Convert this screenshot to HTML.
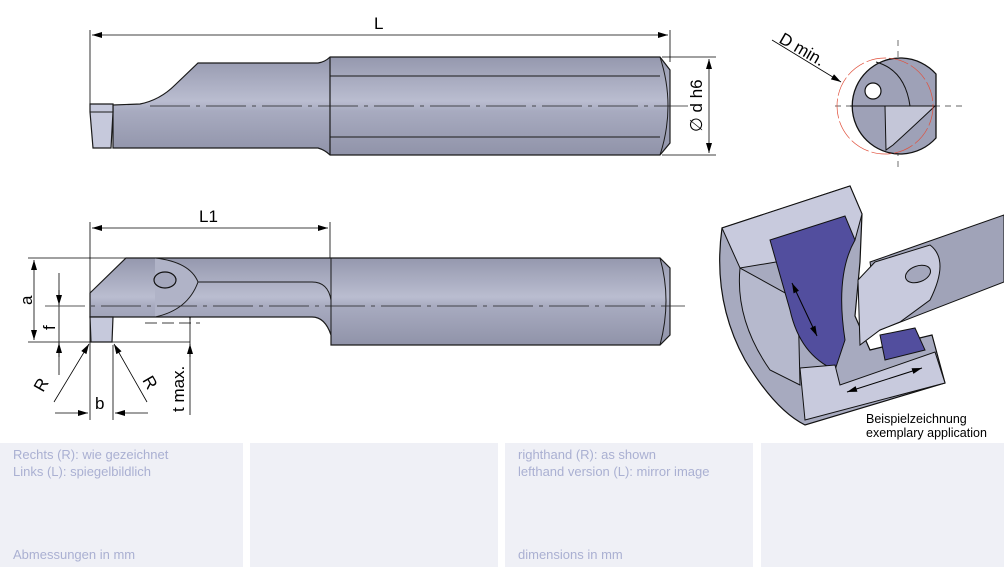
<!DOCTYPE html>
<html><head><meta charset="utf-8"><style>
html,body{margin:0;padding:0;background:#fff;}
body{width:1004px;height:573px;position:relative;overflow:hidden;font-family:"Liberation Sans",sans-serif;}
.p{position:absolute;top:443px;height:124px;background:#eff0f6;}
.t{position:absolute;color:#aab0d2;font-size:13px;line-height:17px;}
</style></head><body>
<svg width="1004" height="443" style="position:absolute;left:0;top:0" font-family="Liberation Sans, sans-serif">
<defs>
<linearGradient id="g" x1="0" y1="0" x2="0" y2="1">
<stop offset="0" stop-color="#9598ae"/><stop offset="0.45" stop-color="#babdd0"/><stop offset="0.55" stop-color="#a8abc0"/><stop offset="1" stop-color="#9093a9"/></linearGradient>
<marker id="a" viewBox="0 0 10 6" refX="10" refY="3" markerWidth="14" markerHeight="6" orient="auto-start-reverse" markerUnits="userSpaceOnUse"><path d="M0,0L10,3L0,6z" fill="#000"/></marker>
</defs>
<g stroke="#000" stroke-width="0.8" fill="none">
<line x1="90" y1="30" x2="90" y2="105"/><line x1="670" y1="30" x2="670" y2="62"/>
<line x1="92" y1="35" x2="668" y2="35" marker-start="url(#a)" marker-end="url(#a)"/>
<line x1="662" y1="57" x2="716" y2="57"/><line x1="662" y1="155" x2="716" y2="155"/>
<line x1="709" y1="59" x2="709" y2="153" marker-start="url(#a)" marker-end="url(#a)"/>
</g>
<path d="M113,105 L140,104 Q160,100 175,85 L198,63 L318,63 Q325,62 330,57 L660,57 L670,70 L670,143 L660,155 L330,155 Q325,150 318,148 L113,148 Z" fill="url(#g)" stroke="#1a1a1a" stroke-width="1.2"/>
<line x1="330" y1="57" x2="330" y2="155" stroke="#1a1a1a" stroke-width="1.2"/>
<line x1="330" y1="76" x2="660" y2="76" stroke="#1a1a1a"/><line x1="330" y1="137" x2="660" y2="137" stroke="#1a1a1a"/>
<path d="M660,57 Q676,106 660,155" fill="none" stroke="#1a1a1a"/>
<path d="M90,104 L113,104 L113,112 L111,148 L93,148 L90,112 Z" fill="#c6c9dc" stroke="#1a1a1a" stroke-width="1.2"/>
<line x1="90" y1="112" x2="113" y2="112" stroke="#1a1a1a"/>
<line x1="150" y1="106" x2="688" y2="106" stroke="#222" stroke-width="0.7" stroke-dasharray="40,6,4,6"/>
<text x="374" y="29" font-size="17">L</text>
<text transform="translate(702,132) rotate(-90)" font-size="17">∅ d h6</text>
<line x1="898" y1="40" x2="898" y2="170" stroke="#333" stroke-width="0.7" stroke-dasharray="6,5"/>
<line x1="835" y1="106" x2="965" y2="106" stroke="#333" stroke-width="0.7" stroke-dasharray="6,5"/>
<path d="M936,74 A48,48 0 1 0 936,138 Z" fill="#9ea1b7" stroke="#111" stroke-width="1.3"/>
<path d="M850,106 L912,106 L935,106 Q915,125 893,145 L886,150 L885,106" fill="#c4c6d8" stroke="#111" stroke-width="1"/>
<path d="M876,62 Q905,70 910,106" fill="none" stroke="#111" stroke-width="1"/>
<circle cx="885" cy="106" r="48" fill="none" stroke="#e0503c" stroke-width="0.7" stroke-dasharray="20,3"/>
<circle cx="873" cy="91" r="8" fill="#fff" stroke="#111" stroke-width="1.2"/>
<line x1="772" y1="40" x2="841" y2="82" stroke="#000" stroke-width="0.8" marker-end="url(#a)"/>
<text transform="translate(778,42) rotate(30)" font-size="17">D min.</text>
<g stroke="#000" stroke-width="0.8" fill="none">
<line x1="90" y1="222" x2="90" y2="345"/><line x1="330" y1="222" x2="330" y2="258"/>
<line x1="92" y1="228" x2="328" y2="228" marker-start="url(#a)" marker-end="url(#a)"/>
<line x1="28" y1="258" x2="135" y2="258"/><line x1="28" y1="342" x2="190" y2="342"/>
<line x1="34" y1="260" x2="34" y2="340" marker-start="url(#a)" marker-end="url(#a)"/>
<line x1="59" y1="273" x2="59" y2="375"/>
<line x1="59" y1="290" x2="59" y2="305" marker-end="url(#a)"/>
<line x1="59" y1="357" x2="59" y2="343" marker-end="url(#a)"/>
<line x1="190" y1="288" x2="190" y2="415"/>
<line x1="190" y1="300" x2="190" y2="320" marker-end="url(#a)"/>
<line x1="190" y1="357" x2="190" y2="344" marker-end="url(#a)"/>
<line x1="145" y1="323" x2="200" y2="323" stroke-dasharray="12,5"/>
<line x1="90" y1="345" x2="90" y2="420"/><line x1="113" y1="345" x2="113" y2="420"/>
<line x1="55" y1="413" x2="88" y2="413" marker-end="url(#a)"/>
<line x1="148" y1="413" x2="115" y2="413" marker-end="url(#a)"/>
<line x1="54" y1="402" x2="89" y2="344" marker-end="url(#a)"/>
<line x1="147" y1="402" x2="114" y2="344" marker-end="url(#a)"/>
</g>
<path d="M90,293 L126,258 L660,258 L670,268 L670,335 L660,345 L331,345 L331,335 Q325,317 312,317 L113,317 L90,317 Z" fill="url(#g)" stroke="#1a1a1a" stroke-width="1.2"/>
<path d="M331,258 L331,335 M198,282 L312,282 Q328,282 331,300" fill="none" stroke="#1a1a1a" stroke-width="1"/>
<path d="M660,258 Q672,300 660,345" fill="none" stroke="#1a1a1a"/>
<path d="M155,258 Q190,262 198,282 Q188,310 155,317" fill="#b0b3c7" stroke="#1a1a1a" stroke-width="1"/>
<ellipse cx="165" cy="280" rx="11" ry="8" fill="#a4a7bc" stroke="#111" stroke-width="1.2"/>
<path d="M90,317 L113,317 L112,342 L91,342 Z" fill="#c6c9dc" stroke="#1a1a1a" stroke-width="1.2"/>
<line x1="45" y1="306" x2="685" y2="306" stroke="#222" stroke-width="0.7" stroke-dasharray="40,6,4,6"/>
<text x="199" y="222" font-size="17">L1</text>
<text transform="translate(32,305) rotate(-90)" font-size="17">a</text>
<text transform="translate(55,330) rotate(-90)" font-size="17">f</text>
<text transform="translate(184,412) rotate(-90)" font-size="17">t max.</text>
<text x="95" y="409" font-size="17">b</text>
<text transform="translate(43,393) rotate(-60)" font-size="17">R</text>
<text transform="translate(142,380) rotate(60)" font-size="17">R</text>
<!-- 3D application -->
<path d="M1004,215 L870,262 L880,330 L1004,282 Z" fill="#a0a3b8" stroke="#111"/>
<path d="M722,228 Q712,300 745,360 Q775,410 805,425 L945,383 L932,335 L870,350 L855,316 L860,262 L862,214 L850,186 Z" fill="#a7aabf" stroke="#111" stroke-width="1.2"/>
<path d="M722,228 L850,186 L862,214 L855,240 L776,262 L740,268 Z" fill="#c8cadd" stroke="#111"/>
<path d="M740,268 Q735,320 770,370 L800,385 L798,300 Z" fill="#b6b9cd" stroke="#111"/>
<path d="M770,240 L845,216 L855,240 Q835,275 845,340 L835,370 Q800,355 790,310 Z" fill="#524e9e" stroke="#111"/>
<path d="M800,368 L835,365 L840,385 L935,352 L945,383 L805,420 Z" fill="#c8cadd" stroke="#111"/>
<path d="M858,280 L875,262 L930,245 Q950,260 930,300 L900,322 L880,330 L860,345 Z" fill="#c8cadd" stroke="#111"/>
<ellipse cx="918" cy="274" rx="13" ry="8" transform="rotate(-20 918 274)" fill="#a4a7bc" stroke="#111"/>
<path d="M880,335 L915,328 L925,350 L885,360 Z" fill="#524e9e" stroke="#111"/>
<line x1="792" y1="283" x2="817" y2="336" stroke="#000" marker-start="url(#a)" marker-end="url(#a)"/>
<line x1="847" y1="392" x2="922" y2="368" stroke="#000" marker-start="url(#a)" marker-end="url(#a)"/>
<text x="866" y="423" font-size="12.5">Beispielzeichnung</text>
<text x="866" y="437" font-size="12.5">exemplary application</text>
</svg>
<div class="p" style="left:0;width:243px"></div>
<div class="p" style="left:250px;width:248px"></div>
<div class="p" style="left:505px;width:248px"></div>
<div class="p" style="left:761px;width:243px"></div>
<div class="t" style="left:13px;top:446px">Rechts (R): wie gezeichnet<br>Links (L): spiegelbildlich</div>
<div class="t" style="left:13px;top:546px">Abmessungen in mm</div>
<div class="t" style="left:518px;top:446px">righthand (R): as shown<br>lefthand version (L): mirror image</div>
<div class="t" style="left:518px;top:546px">dimensions in mm</div>
</body></html>
